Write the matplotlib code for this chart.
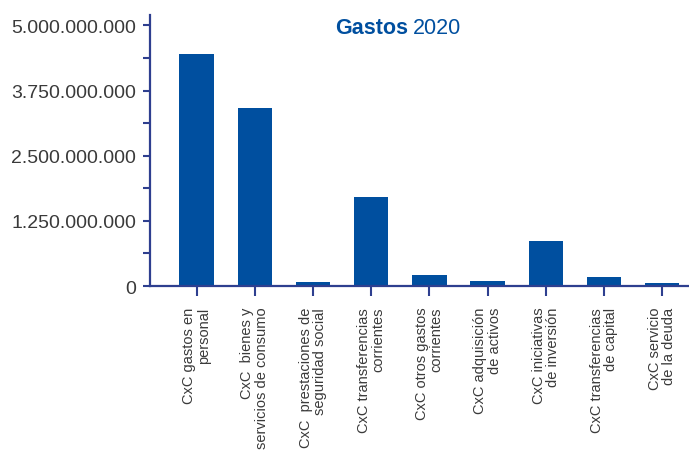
import matplotlib.pyplot as plt
from matplotlib.ticker import MultipleLocator

# data
categorias = [
    "CxC gastos en\npersonal",
    "CxC  bienes y\nservicios de consumo",
    "CxC  prestaciones de\nseguridad social",
    "CxC transferencias\ncorrientes",
    "CxC otros gastos\ncorrientes",
    "CxC adquisición\nde activos",
    "CxC iniciativas\nde inversión",
    "CxC transferencias\nde capital",
    "CxC servicio\nde la deuda",
]
gastos = [4.46e9, 3.42e9, 0.08e9, 1.71e9, 0.22e9, 0.10e9, 0.87e9, 0.18e9, 0.065e9]
y_ticks = [0, 1.25e9, 2.5e9, 3.75e9, 5e9]
y_labels = ["0", "1.250.000.000", "2.500.000.000", "3.750.000.000", "5.000.000.000"]

BAR = "#004f9f"
AXIS = "#2e3f8f"
TXT = "#3a3a3a"

plt.rcParams['font.family'] = ['Liberation Sans', 'DejaVu Sans']

fig = plt.figure(figsize=(6.89, 4.52), dpi=100)
ax = fig.add_axes([150 / 689, 1 - 287 / 452, 539 / 689, 271 / 452])

x = list(range(len(gastos)))
ax.bar(x, gastos, width=0.59, color=BAR)

ax.set_xlim(-0.8, 8.46)
ax.set_ylim(0, 5.2e9)

ax.set_yticks(y_ticks)
ax.set_yticklabels(y_labels, fontsize=14, color=TXT)
ax.yaxis.set_minor_locator(MultipleLocator(0.625e9))
ax.tick_params(axis='y', which='both', length=5, width=1.5, color=AXIS, pad=5)

ax.set_xticks(x)
ax.set_xticklabels(categorias, rotation=90, fontsize=10.5, color=TXT,
                   ha='right', va='center', rotation_mode='anchor',
                   multialignment='right', linespacing=1.05)
ax.tick_params(axis='x', length=7, width=1.5, color=AXIS, pad=8)

for s in ['top', 'right']:
    ax.spines[s].set_visible(False)
for s in ['left', 'bottom']:
    ax.spines[s].set_color(AXIS)
    ax.spines[s].set_linewidth(1.6)

# title: bold word + regular year
fig.text(335 / 689, 1 - 34.5 / 452, "Gastos", fontsize=15.5, color=BAR,
         fontweight='bold', ha='left', va='baseline')
fig.text(413 / 689, 1 - 34.5 / 452, "2020", fontsize=15.5, color=BAR,
         ha='left', va='baseline')

fig.savefig("out.png", dpi=100)
